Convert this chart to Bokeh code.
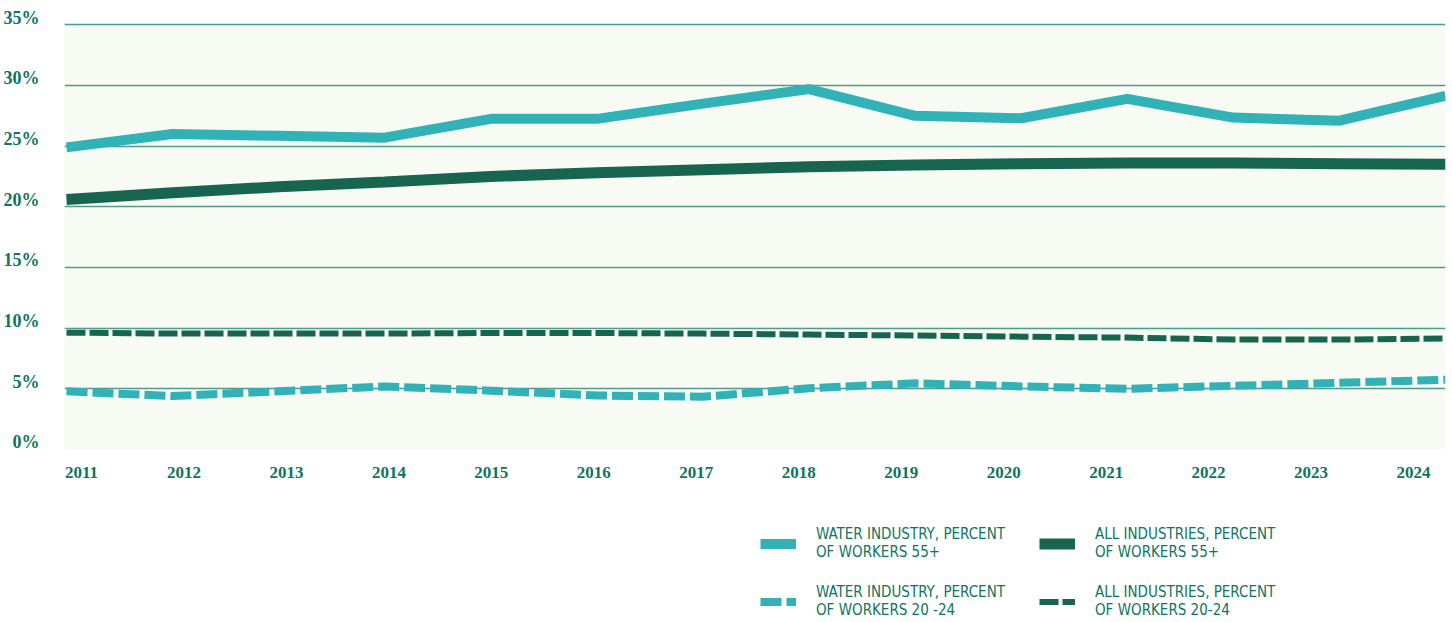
from bokeh.plotting import figure
from bokeh.layouts import column
from bokeh.models import (Range1d, LinearAxis, FixedTicker, Legend, LegendItem,
                          Grid, BoxAnnotation, PrintfTickFormatter)
from bokeh.embed import file_html
from bokeh.resources import INLINE

years = list(range(2011, 2025))
water_55 = [24.9, 26.0, 25.85, 25.7, 27.25, 27.25, 28.5, 29.7, 27.5, 27.3, 28.9, 27.35, 27.1, 29.15]
all_55 = [20.6, 21.15, 21.65, 22.05, 22.5, 22.8, 23.05, 23.3, 23.45, 23.55, 23.6, 23.6, 23.55, 23.5]
all_20_24 = [9.63, 9.55, 9.55, 9.55, 9.6, 9.6, 9.55, 9.47, 9.39, 9.3, 9.22, 9.06, 9.06, 9.14]
water_20_24 = [4.8, 4.4, 4.8, 5.2, 4.85, 4.45, 4.35, 5.05, 5.45, 5.2, 5.0, 5.25, 5.5, 5.75]
y_ticks = [0, 5, 10, 15, 20, 25, 30, 35]
x_ticks = years
labels = ["WATER INDUSTRY, PERCENT\nOF WORKERS 55+",
          "WATER INDUSTRY, PERCENT\nOF WORKERS 20 -24",
          "ALL INDUSTRIES, PERCENT\nOF WORKERS 55+",
          "ALL INDUSTRIES, PERCENT\nOF WORKERS 20-24"]

WATER = "#30b2b7"
ALL = "#17654f"
TEXT = "#0e7561"
SERIF = "Liberation Serif"
SANS = "'Liberation Sans Narrow', 'DejaVu Sans Condensed', sans-serif"

STY = {
    "w55": dict(line_color=WATER, line_width=10),
    "w20": dict(line_color=WATER, line_width=8, line_dash="21 5"),
    "a55": dict(line_color=ALL, line_width=11),
    "a20": dict(line_color=ALL, line_width=6, line_dash="19 4"),
}
DATA = {"w55": water_55, "w20": water_20_24, "a55": all_55, "a20": all_20_24}

p = figure(width=1452, height=500, output_backend="svg", toolbar_location=None,
           x_range=Range1d(2010.981, 2024.0), y_range=Range1d(0, 35.6),
           x_axis_type=None, y_axis_type=None,
           min_border_left=63, min_border_right=7, min_border_top=17, min_border_bottom=51)
p.outline_line_color = None
p.background_fill_color = "white"
p.border_fill_color = "white"

p.add_layout(BoxAnnotation(bottom=0, top=35, fill_color="#f8fbf4", fill_alpha=1.0,
                           line_color=None, level="underlay"))

grid = Grid(dimension=1, ticker=FixedTicker(ticks=y_ticks),
            grid_line_color="#3a9281", grid_line_width=1.5, grid_line_alpha=0.9)
p.add_layout(grid)

p.extra_y_ranges = {"ylab": Range1d(-0.577, 35.023)}
p.extra_x_ranges = {"xlab": Range1d(2010.834, 2024.312)}

yaxis = LinearAxis(y_range_name="ylab", ticker=FixedTicker(ticks=y_ticks),
                   formatter=PrintfTickFormatter(format="%d%%"),
                   axis_line_color=None, major_tick_line_color=None, minor_tick_line_color=None,
                   major_tick_out=0, major_tick_in=0, minor_tick_out=0, minor_tick_in=0,
                   major_label_standoff=25,
                   major_label_text_font=SERIF, major_label_text_font_style="bold",
                   major_label_text_font_size="18px", major_label_text_color=TEXT)
p.add_layout(yaxis, "left")

xaxis = LinearAxis(x_range_name="xlab", ticker=FixedTicker(ticks=x_ticks),
                   axis_line_color=None, major_tick_line_color=None, minor_tick_line_color=None,
                   major_tick_out=0, major_tick_in=0, minor_tick_out=0, minor_tick_in=0,
                   major_label_standoff=17,
                   major_label_text_font=SERIF, major_label_text_font_style="bold",
                   major_label_text_font_size="17px", major_label_text_color=TEXT)
p.add_layout(xaxis, "below")

for k in ["w20", "a20", "a55", "w55"]:
    p.line(years, DATA[k], **STY[k])

# legend panel: same series, outside this panel's visible range, only used for the legend keys
q = figure(width=1452, height=122, output_backend="svg", toolbar_location=None,
           x_range=Range1d(0, 1), y_range=Range1d(0, 1),
           x_axis_type=None, y_axis_type=None,
           min_border_left=63, min_border_right=7, min_border_top=0, min_border_bottom=0)
q.outline_line_color = None
q.background_fill_color = "white"
q.border_fill_color = "white"
lr = {k: q.line(years, DATA[k], **v) for k, v in STY.items()}

common = dict(border_line_color=None, background_fill_alpha=0, padding=0, margin=0,
              glyph_width=36, glyph_height=13, label_standoff=20, spacing=22,
              label_text_font=SANS, label_text_font_size="15px", label_text_color=TEXT)
leg1 = Legend(items=[LegendItem(label=labels[0], renderers=[lr["w55"]]),
                     LegendItem(label=labels[1], renderers=[lr["w20"]])],
              location=(696, 3), **common)
leg2 = Legend(items=[LegendItem(label=labels[2], renderers=[lr["a55"]]),
                     LegendItem(label=labels[3], renderers=[lr["a20"]])],
              location=(975, 3), **common)
q.add_layout(leg1)
q.add_layout(leg2)

layout = column(p, q, spacing=0)
open("out.html", "w").write(file_html(layout, INLINE))
